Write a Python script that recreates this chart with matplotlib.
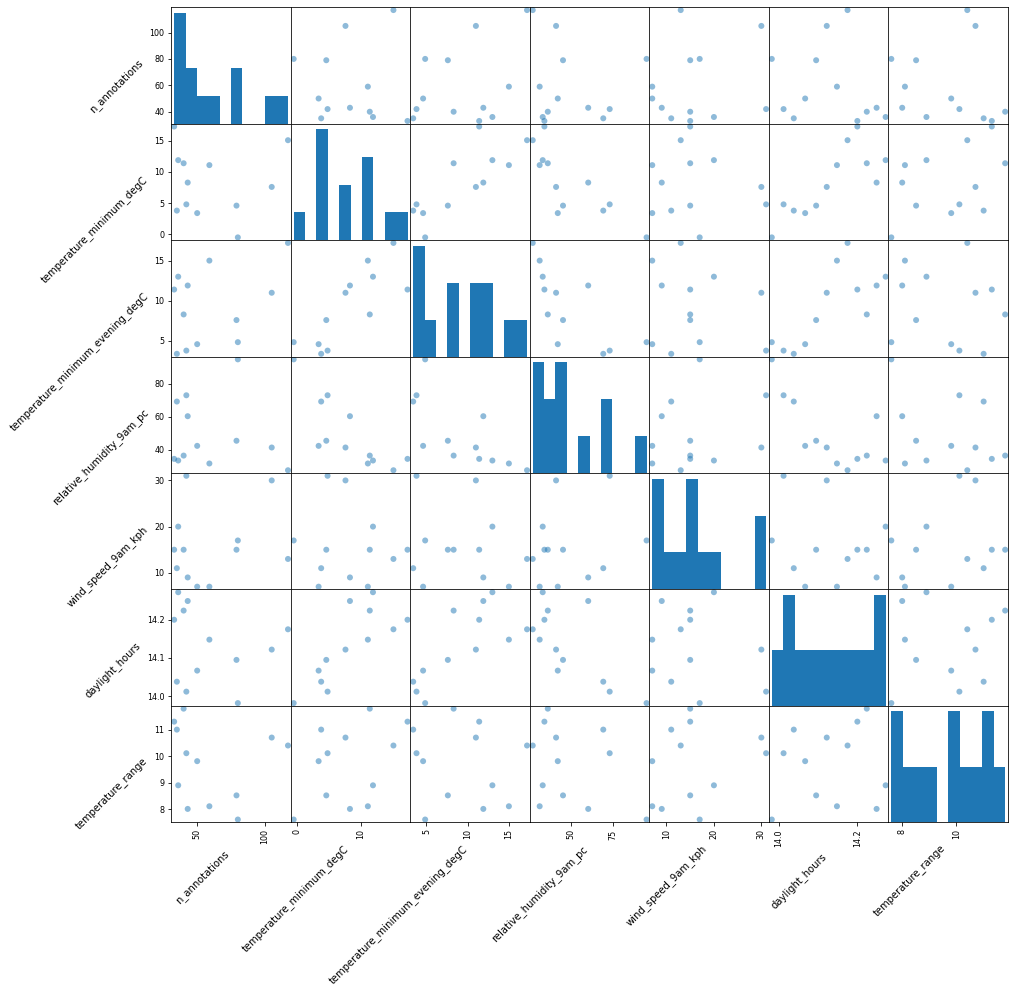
import matplotlib
matplotlib.use("Agg")
import matplotlib.pyplot as plt
import pandas as pd

n_annotations = [33, 35, 36, 40, 42, 43, 50, 59, 79, 80, 105, 117]
temperature_minimum_degC = [17.3, 3.8, 11.9, 11.4, 4.8, 8.3, 3.4, 11.1, 4.6, -0.5, 7.6, 15.1]
temperature_minimum_evening_degC = [11.4, 3.4, 13.0, 8.3, 3.8, 11.9, 4.6, 15.0, 7.6, 4.85, 11.0, 17.2]
relative_humidity_9am_pc = [34.5, 69.3, 33.5, 36.5, 73.1, 60.4, 42.4, 31.7, 45.5, 94.9, 41.4, 27.6]
wind_speed_9am_kph = [15, 11, 20, 15, 31, 9, 7, 7, 15, 17, 30, 13]
daylight_hours = [14.200, 14.038, 14.272, 14.224, 14.012, 14.249, 14.067, 14.148, 14.095, 13.982, 14.122, 14.175]
temperature_range = [11.3, 11.0, 8.9, 11.79, 10.11, 8.01, 9.81, 8.11, 8.52, 7.61, 10.7, 10.4]

df = pd.DataFrame({
    "n_annotations": n_annotations,
    "temperature_minimum_degC": temperature_minimum_degC,
    "temperature_minimum_evening_degC": temperature_minimum_evening_degC,
    "relative_humidity_9am_pc": relative_humidity_9am_pc,
    "wind_speed_9am_kph": wind_speed_9am_kph,
    "daylight_hours": daylight_hours,
    "temperature_range": temperature_range,
})

plt.rcParams["figure.dpi"] = 72
W, H = 1015, 993
axes = pd.plotting.scatter_matrix(df, figsize=(W / 72, H / 72), alpha=0.5, marker="o")
fig = axes[0, 0].get_figure()
fig.set_dpi(72)
fig.subplots_adjust(left=171.3 / W, right=1008 / W, top=1 - 7.3 / H, bottom=1 - 822.3 / H,
                    wspace=0, hspace=0)

for ax in axes.flatten():
    ax.xaxis.label.set_rotation(45)
    ax.xaxis.label.set_ha("right")
    ax.yaxis.label.set_rotation(45)
    ax.yaxis.label.set_ha("right")

fig.savefig("out.png", dpi=72, facecolor="white")
